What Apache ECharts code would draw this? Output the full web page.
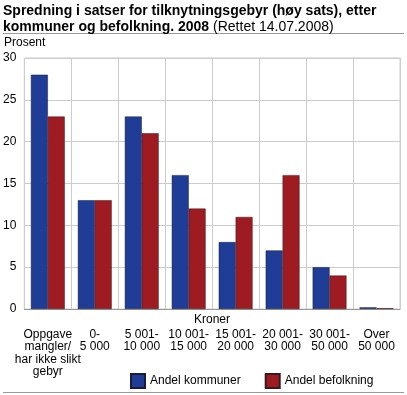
<!DOCTYPE html>
<html><head><meta charset="utf-8">
<script src="https://cdn.jsdelivr.net/npm/echarts@6/dist/echarts.min.js"></script>
<style>html,body{margin:0;padding:0;background:#fff}#c{width:407px;height:395px}</style>
</head><body><div id="c"></div>
<script>
var categories = ["Oppgave\nmangler/\nhar ikke slikt\ngebyr", "0-\n5 000", "5 001-\n10 000", "10 001-\n15 000", "15 001-\n20 000", "20 001-\n30 000", "30 001-\n50 000", "Over\n50 000"];
var andelKommuner = [28, 13, 23, 16, 8, 7, 5, 0.2];
var andelBefolkning = [23, 13, 21, 12, 11, 16, 4, 0.1];
var yTicks = [0, 5, 10, 15, 20, 25, 30];
var ruleSpan = [[0, 0.5], [1, 0.5]];

var chart = echarts.init(document.getElementById('c'), null, {renderer: 'canvas'});
var F = '"Liberation Sans", Arial, sans-serif';
var ruleX = function (idx) {
  return {type: 'value', gridIndex: idx, min: 0, max: 1, show: false};
};
var ruleY = function (idx) {
  return {type: 'value', gridIndex: idx, min: 0, max: 1, show: false};
};
var ruleSeries = function (idx) {
  return {type: 'line', xAxisIndex: idx, yAxisIndex: idx, data: ruleSpan, symbol: 'none',
    silent: true, clip: false, lineStyle: {color: '#999', width: 1}};
};
chart.setOption({
  animation: false,
  textStyle: {fontFamily: F},
  title: [
    {text: '{b|Spredning i satser for tilknytningsgebyr (høy sats), etter}\n{b|kommuner og befolkning. 2008} {n|(Rettet 14.07.2008)}',
     left: 3, top: 3, padding: 0,
     textStyle: {fontSize: 14, color: '#000', fontFamily: F, lineHeight: 16,
       rich: {b: {fontSize: 14, fontWeight: 'bold', color: '#000', fontFamily: F, lineHeight: 16},
              n: {fontSize: 14, fontWeight: 'normal', color: '#000', fontFamily: F, lineHeight: 16}}}},
    {text: 'Prosent', left: 4, top: 37, padding: 0, textStyle: {fontSize: 12, fontWeight: 'normal', color: '#000', fontFamily: F}},
    {text: 'Kroner', left: 212, top: 314, padding: 0, textAlign: 'center', textStyle: {fontSize: 12, fontWeight: 'normal', color: '#000', fontFamily: F}}
  ],
  grid: [
    {left: 23, right: 7, top: 58, bottom: 86, containLabel: false,
     show: true, borderColor: '#ccc', borderWidth: 1},
    {left: 3, right: 3, top: 33, height: 1, show: false},
    {left: 3, right: 3, top: 392, height: 1, show: false}
  ],
  legend: {
    bottom: 1, left: 125, itemWidth: 14, itemHeight: 14, itemGap: 24, icon: 'rect',
    textStyle: {fontSize: 12, color: '#000', fontFamily: F},
    data: ['Andel kommuner', 'Andel befolkning']
  },
  xAxis: [{
    type: 'category', data: categories, gridIndex: 0,
    axisLine: {lineStyle: {color: '#999'}},
    axisTick: {show: false},
    splitLine: {show: true, lineStyle: {color: '#ccc'}},
    axisLabel: {interval: 0, margin: 19, color: '#000', fontSize: 12, lineHeight: 12.5, fontFamily: F}
  }, ruleX(1), ruleX(2)],
  yAxis: [{
    type: 'value', min: 0, max: 30, interval: 5, gridIndex: 0,
    axisLine: {show: false}, axisTick: {show: false},
    splitLine: {lineStyle: {color: '#ccc'}},
    axisLabel: {color: '#000', fontSize: 12, margin: 8, fontFamily: F,
      formatter: function (v) { return yTicks.indexOf(v) >= 0 ? String(v) : ''; }}
  }, ruleY(1), ruleY(2)],
  series: [
    {name: 'Andel kommuner', type: 'bar', data: andelKommuner, barGap: '0%', barCategoryGap: '28%',
     itemStyle: {color: '#1f3c96', borderColor: '#1a1a3a', borderWidth: 0.5}},
    {name: 'Andel befolkning', type: 'bar', data: andelBefolkning,
     itemStyle: {color: '#9e1b22', borderColor: '#3a1a1a', borderWidth: 0.5}},
    ruleSeries(1), ruleSeries(2)
  ]
});
</script></body></html>
